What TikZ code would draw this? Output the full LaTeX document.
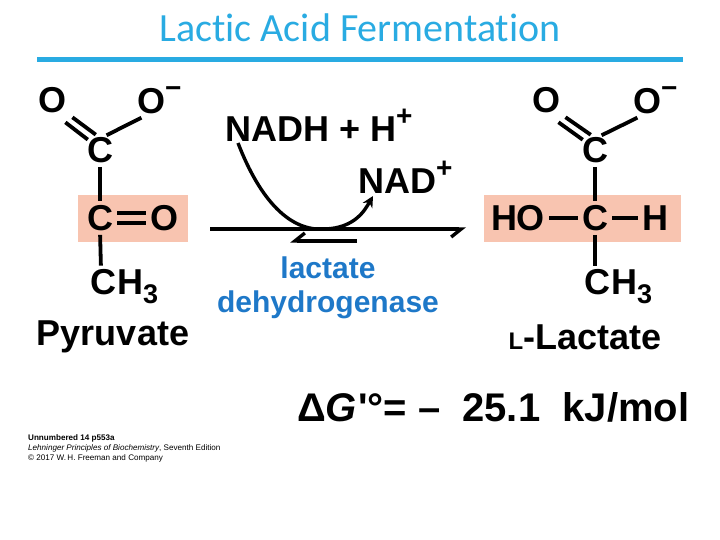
\documentclass[tikz,border=0pt]{standalone}
\usepackage{fontspec}
\setmainfont{Liberation Sans}
\newfontfamily\titlefont[Ligatures=NoCommon]{Carlito}
\usetikzlibrary{arrows.meta,calc}
\definecolor{tblue}{RGB}{41,171,226}
\definecolor{pink}{RGB}{248,196,176}
\definecolor{eblue}{RGB}{30,120,200}
\newcommand{\sub}[1]{\raisebox{-0.25em}{\fontsize{27}{27}\selectfont #1}}
\newcommand{\sps}[1]{\raisebox{0.45em}{\fontsize{28}{28}\selectfont #1}}
\begin{document}
\begin{tikzpicture}[x=1pt,y=-1pt,
  atom/.style={font=\fontsize{36}{36}\selectfont\bfseries,inner sep=0pt},
  bond/.style={line width=3.8pt,shorten <=4pt,shorten >=4pt},
  lbl/.style={font=\fontsize{36}{36}\selectfont\bfseries,inner sep=0pt}]
\useasboundingbox (0,0) rectangle (720,540);
\node[font=\fontsize{40}{40}\selectfont\titlefont,text=tblue] (title) at (360,28) {Lactic Acid Fermentation};
\draw[tblue,line width=5pt] (37,60) -- (683,60);
% pyruvate
\fill[pink] (78,195) rectangle (188,242);
\node[atom] (o1) at (53,100) {O};
\node[atom,anchor=west] (o2) at (137,100) {O\sps{−}};
\node[atom] (c1) at (100,150) {C};
\node[atom] (c2) at (100,218) {C};
\node[atom] (o3) at (164,218) {O};
\node[atom,anchor=west] (ch3) at (90,287) {C\kern1pt H\sub{3}};
\draw[bond] ($(c1.north)+(-1,0)$) -- ($(o1.south east)+(2,2)$);
\draw[bond] ($(c1.north)+(-9,5)$) -- ($(o1.south east)+(-5,7)$);
\draw[bond] ($(c1.north)+(3,0)$) -- ($(o2.south west)+(8,2)$);
\draw[bond] (c1.south) -- (c2.north);
\draw[bond,shorten <=1pt,shorten >=1pt] ($(c2.east)+(3,-5)$) -- ($(o3.west)+(-3,-5)$);
\draw[bond,shorten <=1pt,shorten >=1pt] ($(c2.east)+(3,5)$) -- ($(o3.west)+(-3,5)$);
\draw[bond] (c2.south) -- ($(ch3.north west)+(11,0)$);
\node[lbl] (pyr) at (113,337) {Pyruvate};
% lactate
\fill[pink] (484,195) rectangle (681,242);
\node[atom] (lo1) at (546,100) {O};
\node[atom,anchor=west] (lo2) at (633,100) {O\sps{−}};
\node[atom] (lc1) at (595,150) {C};
\node[atom] (ho) at (518,218) {HO};
\node[atom] (lc2) at (595,218) {C};
\node[atom] (h) at (655,218) {H};
\node[atom,anchor=west] (lch3) at (584,287) {C\kern1pt H\sub{3}};
\draw[bond] ($(lc1.north)+(-1,0)$) -- ($(lo1.south east)+(2,2)$);
\draw[bond] ($(lc1.north)+(-9,5)$) -- ($(lo1.south east)+(-5,7)$);
\draw[bond] ($(lc1.north)+(3,0)$) -- ($(lo2.south west)+(8,2)$);
\draw[bond] (lc1.south) -- (lc2.north);
\draw[bond] (ho.east) -- (lc2.west);
\draw[bond] (lc2.east) -- (h.west);
\draw[bond] (lc2.south) -- ($(lch3.north west)+(11,0)$);
\node[lbl] (lac) at (585,337) {{\fontsize{24}{24}\selectfont L}-Lactate};
% arrows
\node[lbl,anchor=west] (nadh) at (225,125) {NADH + H\sps{+}};
\node[lbl,anchor=west] (nad) at (358,177) {NAD\sps{+}};
\coordinate (a1) at (210,229);
\coordinate (a2) at (466,229);
\coordinate (b1) at (357,241);
\coordinate (b2) at (290,241);
\draw[line width=3.4pt,-{Straight Barb[right,length=10pt,width=16pt]}] (a1) -- (a2);
\draw[line width=3.4pt,-{Straight Barb[right,length=10pt,width=16pt]}] (b1) -- (b2);
\draw[line width=3.4pt,-{Stealth[length=11pt,width=11pt]}] (238,143) .. controls (260,200) and (290,232) .. (325,229) .. controls (355,228) and (365,210) .. (373,196);
\node[font=\fontsize{30}{30}\selectfont\bfseries,text=eblue,align=center] (enz) at (328,288) {lactate\\[4pt]dehydrogenase};
\node[anchor=west,inner sep=0pt,font=\fontsize{40}{40}\selectfont\bfseries] (dg) at (297,407) {Δ\textit{G}\kern1pt\textquotesingle°= –\ \ 25.1\ \ kJ/mol};
\node[anchor=north west,align=left,inner sep=0pt,font=\fontsize{8.1}{10}\selectfont] (cred) at (28,434) {\textbf{Unnumbered 14 p553a}\\\textit{Lehninger Principles of Biochemistry}, Seventh Edition\\© 2017 W.\,H. Freeman and Company};
\end{tikzpicture}
\end{document}
